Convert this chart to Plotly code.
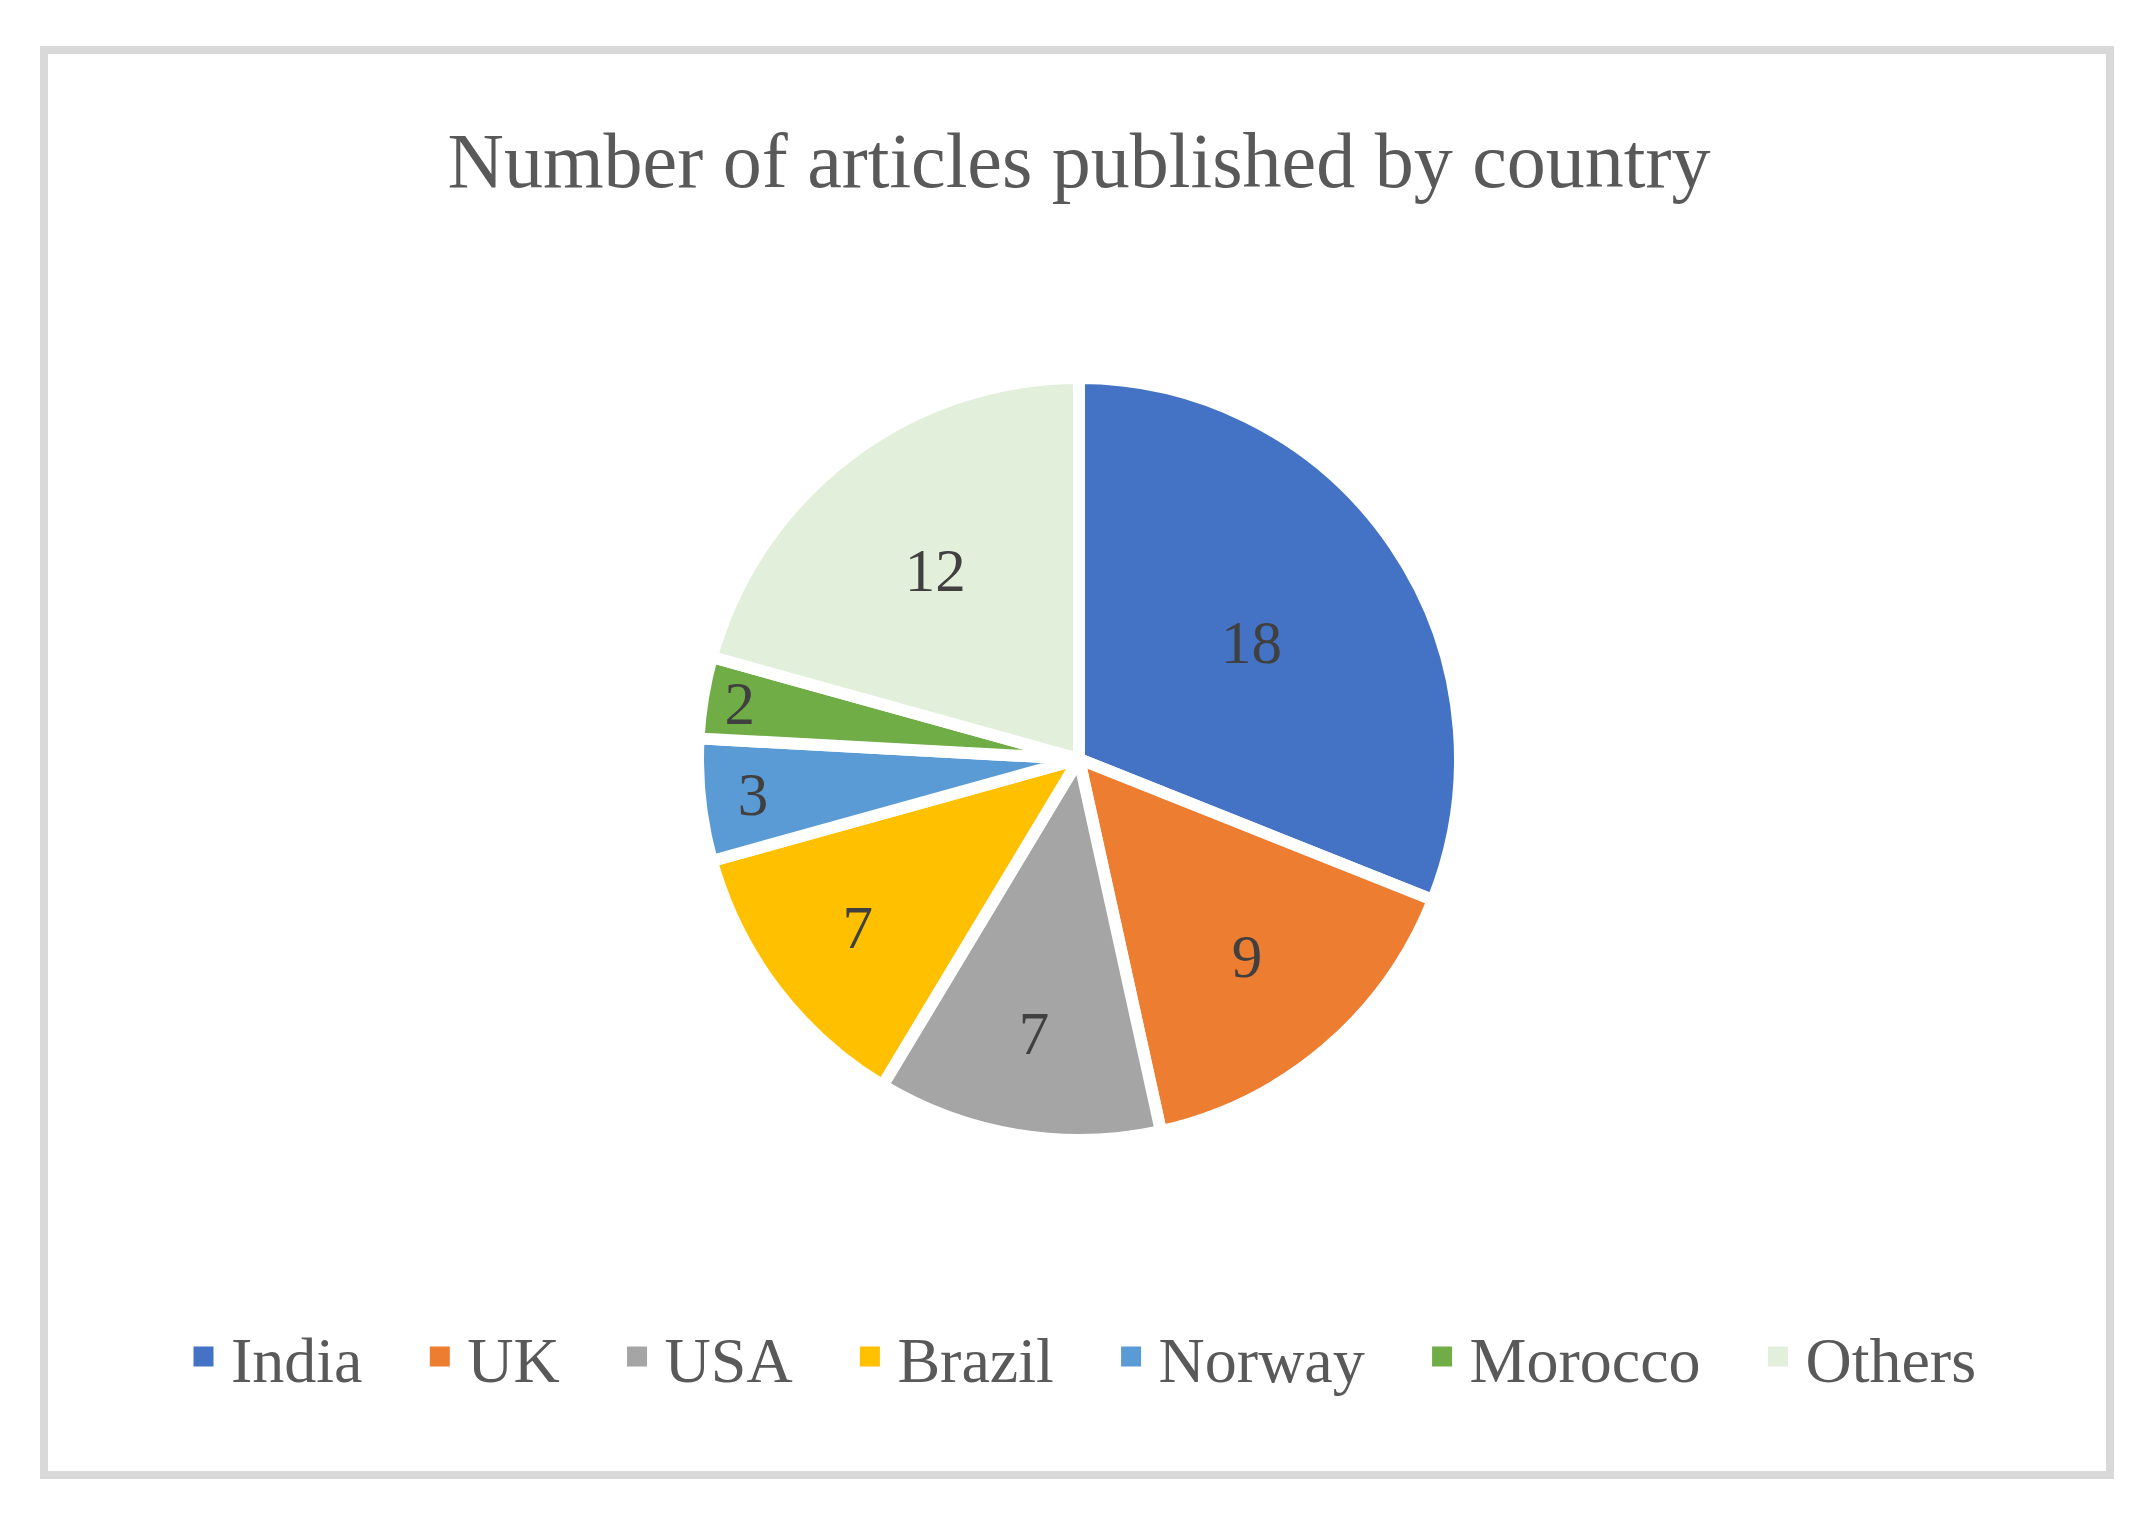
import plotly.graph_objects as go

# datos del grafico
paises = ["India", "UK", "USA", "Brazil", "Norway", "Morocco", "Others"]
articulos = [18, 9, 7, 7, 3, 2, 12]
colores = ["#4472C4", "#ED7D31", "#A5A5A5", "#FFC000", "#5B9BD5", "#70AD47", "#E2EFDA"]
titulo = "Number of articles published by country"

W, H = 2149, 1521
fuente = "Liberation Serif"

# centro y radio del pastel en pixeles
cx, cy, r = 1079, 759, 381

fig = go.Figure()
fig.add_trace(go.Pie(
    labels=paises,
    values=articulos,
    sort=False,
    direction="clockwise",
    rotation=0,
    marker=dict(colors=colores, line=dict(color="white", width=12)),
    textinfo="value",
    textposition="inside",
    insidetextorientation="horizontal",
    textfont=dict(family=fuente, size=61, color="#404040"),
    domain=dict(x=[(cx - r) / W, (cx + r) / W], y=[(H - cy - r) / H, (H - cy + r) / H]),
    hoverinfo="label+value",
    showlegend=False,
))

# leyenda con cuadrados mas grandes (trazas vacias, una por pais)
for p, c in zip(paises, colores):
    fig.add_trace(go.Scatter(
        x=[None], y=[None], mode="markers", name=p + "\u00a0\u00a0\u2009",
        marker=dict(symbol="square", size=16, color=c, line=dict(color=c, width=4)),
    ))

fig.update_layout(
    width=W, height=H,
    margin=dict(l=0, r=0, t=0, b=0),
    paper_bgcolor="white",
    plot_bgcolor="white",
    xaxis=dict(visible=False),
    yaxis=dict(visible=False),
    uniformtext=dict(minsize=61, mode="show"),
    title=dict(text=titulo, x=cx / W, xanchor="center", y=1 - 160 / H, yanchor="middle",
               font=dict(family=fuente, size=78, color="#595959")),
    legend=dict(orientation="h", x=(cx + 22) / W, xanchor="center", y=1 - 1357 / H, yanchor="middle",
                font=dict(family=fuente, size=64, color="#595959"), itemwidth=45),
    shapes=[dict(type="rect", xref="paper", yref="paper",
                 x0=44 / W, x1=2110 / W, y0=1 - 50 / H, y1=1 - 1475 / H,
                 line=dict(color="#D9D9D9", width=8), fillcolor="rgba(0,0,0,0)")],
)

# quitar el margen por defecto del body
fig.write_html("out.html", config={"displayModeBar": False},
               post_script="document.body.style.margin='0';")
